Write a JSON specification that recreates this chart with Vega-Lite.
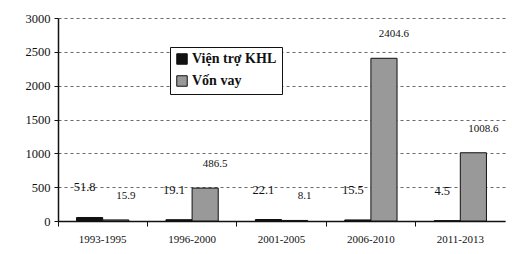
{
  "$schema": "https://vega.github.io/schema/vega-lite/v6.json",
  "width": 447,
  "height": 203,
  "autosize": {"type": "none"},
  "padding": {"left": 58, "top": 18, "right": 25, "bottom": 33},
  "background": "white",
  "config": {
    "view": {"stroke": null},
    "font": "Liberation Serif"
  },
  "data": {
    "values": [
      {"period": "1993-1995", "series": "Viện trợ KHL", "value": 51.8},
      {"period": "1993-1995", "series": "Vốn vay", "value": 15.9},
      {"period": "1996-2000", "series": "Viện trợ KHL", "value": 19.1},
      {"period": "1996-2000", "series": "Vốn vay", "value": 486.5},
      {"period": "2001-2005", "series": "Viện trợ KHL", "value": 22.1},
      {"period": "2001-2005", "series": "Vốn vay", "value": 8.1},
      {"period": "2006-2010", "series": "Viện trợ KHL", "value": 15.5},
      {"period": "2006-2010", "series": "Vốn vay", "value": 2404.6},
      {"period": "2011-2013", "series": "Viện trợ KHL", "value": 4.5},
      {"period": "2011-2013", "series": "Vốn vay", "value": 1008.6}
    ]
  },
  "encoding": {
    "x": {
      "field": "period",
      "type": "nominal",
      "sort": null,
      "scale": {"paddingInner": 0, "paddingOuter": 0},
      "axis": {
        "title": null,
        "labelAngle": 0,
        "labelFont": "Liberation Serif",
        "labelFontSize": 11,
        "labelColor": "#111",
        "bandPosition": 0,
        "tickSize": 5,
        "tickColor": "#111",
        "domainColor": "#111",
        "domainWidth": 1.5,
        "labelPadding": 7,
        "grid": false
      }
    },
    "xOffset": {
      "field": "series",
      "type": "nominal",
      "scale": {"paddingInner": 0, "paddingOuter": 0.71}
    },
    "y": {
      "field": "value",
      "type": "quantitative",
      "scale": {"domain": [0, 3000], "nice": false},
      "axis": {
        "title": null,
        "values": [0, 500, 1000, 1500, 2000, 2500, 3000],
        "format": "d",
        "labelFont": "Liberation Serif",
        "labelFontSize": 12.5,
        "labelColor": "#111",
        "tickSize": 4,
        "tickColor": "#111",
        "labelPadding": 4,
        "domainColor": "#111",
        "domainWidth": 1.5,
        "grid": true,
        "gridColor": "#444",
        "gridDash": [3, 3],
        "gridWidth": 0.8
      }
    }
  },
  "layer": [
    {
      "mark": {"type": "bar", "stroke": "#111", "strokeWidth": 1},
      "encoding": {
        "fill": {
          "field": "series",
          "type": "nominal",
          "scale": {"domain": ["Viện trợ KHL", "Vốn vay"], "range": ["#111111", "#999999"]},
          "legend": {
            "title": null,
            "orient": "none",
            "legendX": 112,
            "legendY": 29,
            "strokeColor": "#111",
            "fillColor": "white",
            "padding": 5,
            "labelFont": "Liberation Serif",
            "labelFontSize": 14,
            "labelFontWeight": "bold",
            "labelColor": "#111",
            "symbolType": "square",
            "symbolSize": 110,
            "symbolStrokeColor": "#111",
            "symbolStrokeWidth": 1,
            "rowPadding": 6,
            "labelOffset": 3
          }
        }
      }
    },
    {
      "transform": [{"filter": "datum.series === 'Viện trợ KHL'"}],
      "mark": {"type": "text", "dy": -30, "dx": -5, "fontSize": 12.5, "font": "Liberation Serif", "color": "#111"},
      "encoding": {
        "text": {"field": "value", "type": "quantitative", "format": ".1f"}
      }
    },
    {
      "transform": [{"filter": "datum.series === 'Vốn vay'"}],
      "mark": {"type": "text", "dy": -24, "dx": 10, "fontSize": 11, "font": "Liberation Serif", "color": "#111"},
      "encoding": {
        "text": {"field": "value", "type": "quantitative", "format": ".1f"}
      }
    }
  ]
}
